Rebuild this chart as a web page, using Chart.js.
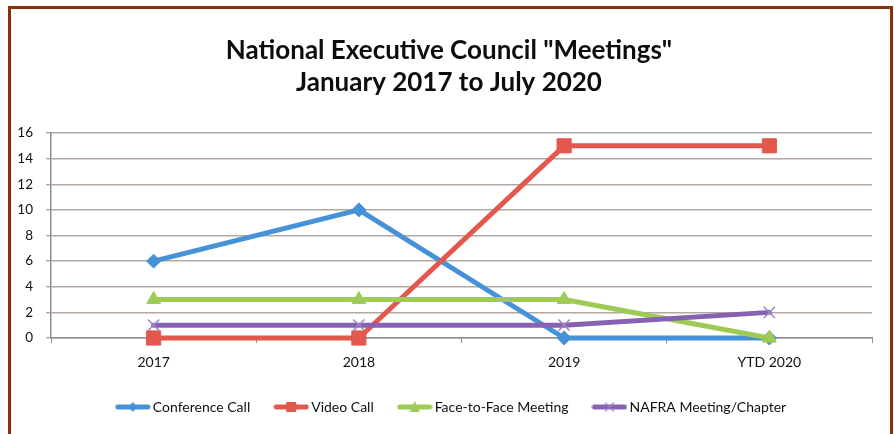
<!DOCTYPE html>
<html><head><meta charset="utf-8">
<script src="https://cdn.jsdelivr.net/npm/chart.js@4.4.1/dist/chart.umd.min.js"></script>
<style>
html,body{margin:0;padding:0;background:#fff;}
#wrap{position:relative;width:894px;height:434px;overflow:hidden;background:#fff;}
#frame{position:absolute;left:8px;top:6px;width:885px;height:470px;border:3px solid #8b300c;box-sizing:border-box;}
canvas{position:absolute;left:0;top:0;}
</style></head><body>
<div id="wrap"><div id="frame"></div><canvas id="c" width="894" height="434"></canvas></div>
<script>
const categories = ['2017', '2018', '2019', 'YTD 2020'];
const conferenceCall = [6, 10, 0, 0];
const videoCall = [0, 0, 15, 15];
const faceToFace = [3, 3, 3, 0];
const nafraMeeting = [1, 1, 1, 2];
const seriesLabels = ['Conference Call', 'Video Call', 'Face-to-Face Meeting', 'NAFRA Meeting/Chapter'];
const titleLines = ['National Executive Council "Meetings"', 'January 2017 to July 2020'];
const yMin = 0, yMax = 16, yStep = 2;

const FONT = "Lato, 'Open Sans', sans-serif";
const BLUE = '#4592d8', RED = '#e2584d', GREEN = '#9dcb55', PURPLE = '#8862b2', PURPLE_X = '#9d84c8';

function legendImage(color, kind, markColor) {
  const cv = document.createElement('canvas');
  cv.width = 36; cv.height = 16;
  const g = cv.getContext('2d');
  g.strokeStyle = color; g.lineWidth = 5; g.lineCap = 'round';
  g.beginPath(); g.moveTo(3, 8); g.lineTo(33, 8); g.stroke();
  g.fillStyle = color; g.strokeStyle = markColor || color;
  const cx = 18, cy = 8;
  g.beginPath();
  if (kind === 'diamond') { g.moveTo(cx, cy - 5); g.lineTo(cx + 4, cy); g.lineTo(cx, cy + 5); g.lineTo(cx - 4, cy); g.closePath(); g.fill(); }
  else if (kind === 'square') { g.fillRect(cx - 5, cy - 5, 10, 10); }
  else if (kind === 'triangle') { g.moveTo(cx, cy - 6); g.lineTo(cx + 5, cy + 5); g.lineTo(cx - 5, cy + 5); g.closePath(); g.fill(); }
  else if (kind === 'x') { g.lineWidth = 1.2; g.moveTo(cx - 4, cy - 4); g.lineTo(cx + 4, cy + 4); g.moveTo(cx + 4, cy - 4); g.lineTo(cx - 4, cy + 4); g.stroke(); }
  return cv;
}
const legendImgs = [legendImage(BLUE, 'diamond'), legendImage(RED, 'square'), legendImage(GREEN, 'triangle'), legendImage(PURPLE, 'x', PURPLE_X)];

function ds(label, data, color, style, radius, order, extra) {
  return Object.assign({
    label, data, borderColor: color, backgroundColor: color, borderWidth: 5,
    pointStyle: style, pointRadius: radius, pointHoverRadius: radius,
    pointBackgroundColor: color, pointBorderColor: color, pointBorderWidth: 1,
    tension: 0, borderJoinStyle: 'round', borderCapStyle: 'round', order, clip: false
  }, extra || {});
}

const shiftPlugin = {
  id: 'shiftBlocks',
  afterLayout(chart) {
    if (chart.legend) { chart.legend.left += 12; chart.legend.right += 12; }
    if (chart.titleBlock) { chart.titleBlock.left += 8; chart.titleBlock.right += 8; }
  }
};

new Chart(document.getElementById('c'), {
  type: 'line',
  plugins: [shiftPlugin],
  data: {
    labels: categories,
    datasets: [
      ds(seriesLabels[0], conferenceCall, BLUE, 'rectRot', 7, 3),
      ds(seriesLabels[1], videoCall, RED, 'rect', 10, 2),
      ds(seriesLabels[2], faceToFace, GREEN, 'triangle', 8, 1),
      ds(seriesLabels[3], nafraMeeting, PURPLE, 'crossRot', 8, 0, { pointBorderColor: PURPLE_X, pointBorderWidth: 1.5 })
    ]
  },
  options: {
    responsive: false, animation: false, devicePixelRatio: 1,
    layout: { padding: { top: 0, left: 10, right: 22, bottom: 10 } },
    plugins: {
      tooltip: { enabled: false },
      title: {
        display: true, text: titleLines, color: '#0d0d0d',
        font: { family: FONT, size: 26, weight: 'bold', lineHeight: 1.25 },
        padding: { top: 34, bottom: 34 }
      },
      legend: {
        position: 'bottom',
        labels: {
          usePointStyle: true, pointStyleWidth: 26, boxHeight: 16,
          padding: 28, color: '#111', font: { family: FONT, size: 14 },
          generateLabels: (chart) => chart.data.datasets.map((d, i) => ({
            text: d.label, pointStyle: legendImgs[i], datasetIndex: i,
            fillStyle: d.borderColor, strokeStyle: d.borderColor, lineWidth: 0, hidden: false, fontColor: '#111'
          }))
        }
      }
    },
    scales: {
      x: {
        offset: true,
        grid: { display: true, drawOnChartArea: false, drawTicks: true, tickLength: 5, offset: true, color: '#8e8e8e', lineWidth: 1 },
        border: { display: true, color: '#8e8e8e', width: 1.5 },
        ticks: { color: '#111', font: { family: FONT, size: 14 }, padding: 11, maxRotation: 0 },
        afterFit: (s) => { s.height = 34; }
      },
      y: {
        min: yMin, max: yMax,
        grid: { color: '#b3a8a2', lineWidth: 1.4, tickLength: 5, drawTicks: true },
        border: { display: true, color: '#8e8e8e', width: 1.5 },
        ticks: { stepSize: yStep, color: '#111', font: { family: FONT, size: 13.5 }, padding: 13 },
        afterFit: (s) => { s.width = 41; }
      }
    }
  }
});
</script>
</body></html>
